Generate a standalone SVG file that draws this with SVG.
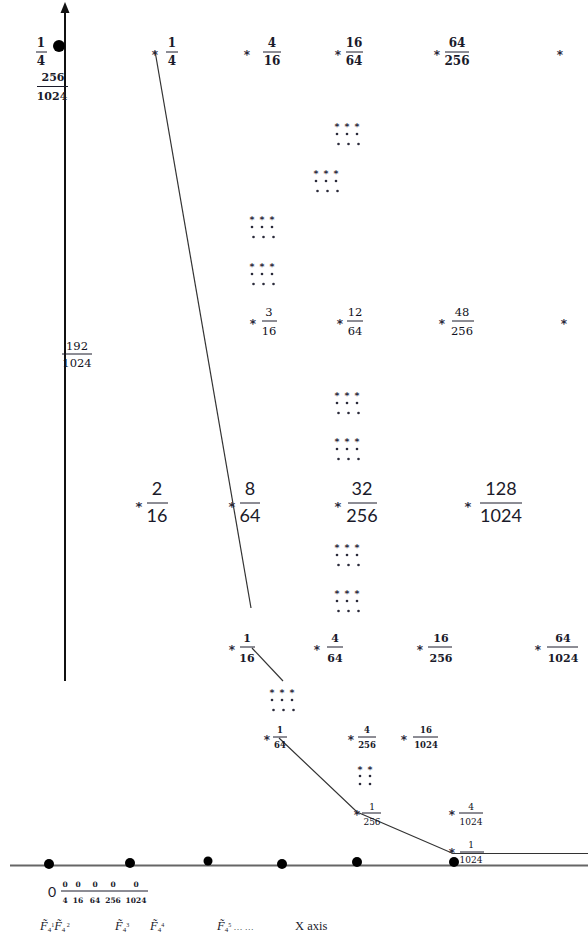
<svg xmlns="http://www.w3.org/2000/svg" xmlns:xlink="http://www.w3.org/1999/xlink" width="588" height="938" viewBox="0 0 588 938">
<style>
.fb{font-family:"DejaVu Serif",serif;font-weight:bold;font-size:12px;fill:#1a1a2a;text-anchor:middle}
.fm{font-family:"DejaVu Serif",serif;font-weight:bold;font-size:11px;fill:#1a1a2a;text-anchor:middle}
.fr{font-family:"DejaVu Serif",serif;font-size:11.5px;fill:#111122;text-anchor:middle}
.fs{font-family:"DejaVu Serif",serif;font-weight:bold;font-size:8.5px;fill:#1a1a2a;text-anchor:middle}
.ft{font-family:"DejaVu Serif",serif;font-size:9px;fill:#111122;text-anchor:middle}
.fz{font-family:"DejaVu Serif",serif;font-weight:bold;font-size:7.5px;fill:#1a1a2a;text-anchor:middle}
.fl{font-family:Lato,"Liberation Sans",sans-serif;font-size:18px;fill:#1a1a2a;text-anchor:middle}
.st{font-family:"DejaVu Sans",sans-serif;font-weight:bold;font-size:12px;fill:#2a2a3a;text-anchor:middle}
.stl{font-family:"DejaVu Sans",sans-serif;font-weight:bold;font-size:13px;fill:#2a2a3a;text-anchor:middle}
.ga{font-family:"DejaVu Sans",sans-serif;font-weight:bold;font-size:9.5px;fill:#2a2a3a;text-anchor:middle}
.lab{font-family:"Liberation Serif",serif;font-size:12.5px;fill:#1a1a2a}
.it{font-style:italic}
.bar{stroke:#1a1a2a;stroke-width:1}
.cn{stroke:#333;stroke-width:1.2;fill:none}
.dt{fill:#000}
.gd{fill:#2a2a3a}
</style>
<defs>
<g id="grid3">
<text class="ga" x="0" y="5.6">*</text><text class="ga" x="10" y="5.6">*</text><text class="ga" x="20" y="5.6">*</text>
<circle class="gd" cx="0" cy="10" r="1.3"/><circle class="gd" cx="10" cy="10" r="1.3"/><circle class="gd" cx="20" cy="10" r="1.3"/>
<circle class="gd" cx="1.5" cy="20" r="1.3"/><circle class="gd" cx="11.5" cy="20" r="1.3"/><circle class="gd" cx="21.5" cy="20" r="1.3"/>
</g>
<g id="grid2">
<text class="ga" x="0" y="5.6">*</text><text class="ga" x="10" y="5.6">*</text>
<circle class="gd" cx="0" cy="9" r="1.3"/><circle class="gd" cx="10" cy="9" r="1.3"/>
<circle class="gd" cx="0" cy="17" r="1.3"/><circle class="gd" cx="10" cy="17" r="1.3"/>
</g>
</defs>
<rect width="588" height="938" fill="#fff"/>

<g id="axes">
<line x1="65" y1="10" x2="65" y2="681" stroke="#111" stroke-width="2"/>
<polygon points="65,2 60.5,13 69.5,13" fill="#111"/>
<line x1="10" y1="865.5" x2="588" y2="865.5" stroke="#666" stroke-width="2"/>
</g>

<g id="connectors">
<line class="cn" x1="155" y1="51" x2="251" y2="608"/>
<line class="cn" x1="252" y1="648" x2="283" y2="681"/>
<polyline class="cn" points="279,738 357,812 453,853.5 588,853.5"/>
</g>

<g id="axis-dots">
<circle class="dt" cx="59" cy="46" r="6"/>
<circle class="dt" cx="49" cy="864" r="5"/>
<circle class="dt" cx="130" cy="863" r="5"/>
<circle class="dt" cx="208" cy="861" r="4.5"/>
<circle class="dt" cx="282" cy="864" r="5"/>
<circle class="dt" cx="357" cy="862" r="5"/>
<circle class="dt" cx="454" cy="862" r="5"/>
</g>

<g id="y-label-1-4"><text class="fb" x="41" y="47">1</text><line class="bar" x1="36" y1="52" x2="47" y2="52"/><text class="fb" x="41" y="65">4</text></g>
<g id="y-label-256-1024"><text class="fm" x="53" y="81">256</text><line class="bar" x1="37" y1="86.5" x2="68" y2="86.5"/><text class="fm" x="52" y="100">1024</text></g>
<g id="y-label-192-1024"><text class="fr" x="77" y="350">192</text><line class="bar" x1="62" y1="354" x2="92" y2="354"/><text class="fr" x="77" y="367">1024</text></g>

<g id="r1-1-4"><text class="st" x="155" y="59">*</text><text class="fb" x="172" y="47">1</text><line class="bar" x1="166" y1="52" x2="178" y2="52"/><text class="fb" x="172" y="65">4</text></g>
<g id="r1-4-16"><text class="st" x="247" y="59">*</text><text class="fb" x="272" y="47">4</text><line class="bar" x1="263" y1="52" x2="281" y2="52"/><text class="fb" x="272" y="65">16</text></g>
<g id="r1-16-64"><text class="st" x="338" y="59">*</text><text class="fb" x="354" y="47">16</text><line class="bar" x1="346" y1="52" x2="363" y2="52"/><text class="fb" x="354" y="65">64</text></g>
<g id="r1-64-256"><text class="st" x="437" y="59">*</text><text class="fb" x="457" y="47">64</text><line class="bar" x1="445" y1="52" x2="469" y2="52"/><text class="fb" x="457" y="65">256</text></g>
<g id="r1-star"><text class="st" x="560" y="59">*</text></g>

<g id="grid-a"><use xlink:href="#grid3" x="337" y="124"/></g>
<g id="grid-b"><use xlink:href="#grid3" x="316" y="171"/></g>
<g id="grid-c"><use xlink:href="#grid3" x="252" y="217"/></g>
<g id="grid-d"><use xlink:href="#grid3" x="252" y="264"/></g>

<g id="r2-3-16"><text class="st" x="253" y="328">*</text><text class="fr" x="269" y="316">3</text><line class="bar" x1="262" y1="321" x2="277" y2="321"/><text class="fr" x="269" y="335">16</text></g>
<g id="r2-12-64"><text class="st" x="340" y="328">*</text><text class="fr" x="355" y="316">12</text><line class="bar" x1="347" y1="321" x2="363" y2="321"/><text class="fr" x="355" y="335">64</text></g>
<g id="r2-48-256"><text class="st" x="442" y="328">*</text><text class="fr" x="462" y="316">48</text><line class="bar" x1="452" y1="321" x2="474" y2="321"/><text class="fr" x="462" y="335">256</text></g>
<g id="r2-star"><text class="st" x="564" y="328">*</text></g>

<g id="grid-e"><use xlink:href="#grid3" x="337" y="393"/></g>
<g id="grid-f"><use xlink:href="#grid3" x="337" y="439"/></g>

<g id="r3-2-16"><text class="stl" x="139" y="511">*</text><text class="fl" x="157" y="495">2</text><line class="bar" x1="147" y1="503" x2="168" y2="503"/><text class="fl" x="157" y="522">16</text></g>
<g id="r3-8-64"><text class="stl" x="232" y="511">*</text><text class="fl" x="250" y="495">8</text><line class="bar" x1="240" y1="503" x2="260" y2="503"/><text class="fl" x="250" y="522">64</text></g>
<g id="r3-32-256"><text class="stl" x="338" y="511">*</text><text class="fl" x="362" y="495">32</text><line class="bar" x1="348" y1="503" x2="377" y2="503"/><text class="fl" x="362" y="522">256</text></g>
<g id="r3-128-1024"><text class="stl" x="468" y="511">*</text><text class="fl" x="501" y="495">128</text><line class="bar" x1="480" y1="503" x2="522" y2="503"/><text class="fl" x="501" y="522">1024</text></g>

<g id="grid-g"><use xlink:href="#grid3" x="337" y="545"/></g>
<g id="grid-h"><use xlink:href="#grid3" x="337" y="591"/></g>

<g id="r4-1-16"><text class="st" x="232" y="654">*</text><text class="fm" x="247" y="642">1</text><line class="bar" x1="240" y1="647" x2="255" y2="647"/><text class="fm" x="247" y="662">16</text></g>
<g id="r4-4-64"><text class="st" x="317" y="654">*</text><text class="fm" x="335" y="642">4</text><line class="bar" x1="327" y1="647" x2="343" y2="647"/><text class="fm" x="335" y="662">64</text></g>
<g id="r4-16-256"><text class="st" x="420" y="654">*</text><text class="fm" x="441" y="642">16</text><line class="bar" x1="428" y1="647" x2="452" y2="647"/><text class="fm" x="441" y="662">256</text></g>
<g id="r4-64-1024"><text class="st" x="538" y="654">*</text><text class="fm" x="563" y="642">64</text><line class="bar" x1="547" y1="647" x2="578" y2="647"/><text class="fm" x="563" y="662">1024</text></g>

<g id="grid-i"><use xlink:href="#grid3" x="272" y="690"/></g>

<g id="r5-1-64"><text class="st" x="267" y="744">*</text><text class="fs" x="280" y="733">1</text><line class="bar" x1="273" y1="737" x2="287" y2="737"/><text class="fs" x="280" y="748">64</text></g>
<g id="r5-4-256"><text class="st" x="351" y="744">*</text><text class="fs" x="367" y="733">4</text><line class="bar" x1="358" y1="737" x2="376" y2="737"/><text class="fs" x="367" y="748">256</text></g>
<g id="r5-16-1024"><text class="st" x="404" y="744">*</text><text class="fs" x="426" y="733">16</text><line class="bar" x1="413" y1="737" x2="438" y2="737"/><text class="fs" x="426" y="748">1024</text></g>

<g id="grid-j"><use xlink:href="#grid2" x="360" y="767"/></g>

<g id="r6-1-256"><text class="st" x="357" y="819">*</text><text class="ft" x="372" y="810">1</text><line class="bar" x1="362" y1="813" x2="381" y2="813"/><text class="ft" x="372" y="825">256</text></g>
<g id="r6-4-1024"><text class="st" x="452" y="819">*</text><text class="ft" x="471" y="810">4</text><line class="bar" x1="459" y1="813" x2="483" y2="813"/><text class="ft" x="471" y="825">1024</text></g>
<g id="r7-1-1024"><text class="st" x="452" y="857">*</text><text class="ft" x="471" y="848">1</text><line class="bar" x1="460" y1="852" x2="484" y2="852"/><text class="ft" x="471" y="863">1024</text></g>

<g id="zeros">
<text x="52" y="897" font-family="Lato, 'Liberation Sans', sans-serif" font-size="14" fill="#1a1a2a" text-anchor="middle">0</text>
<line class="bar" x1="61" y1="891" x2="148" y2="891"/>
<text class="fz" x="65" y="887">0</text><text class="fz" x="65" y="903">4</text>
<text class="fz" x="78" y="887">0</text><text class="fz" x="78" y="903">16</text>
<text class="fz" x="95" y="887">0</text><text class="fz" x="95" y="903">64</text>
<text class="fz" x="113" y="887">0</text><text class="fz" x="113" y="903">256</text>
<text class="fz" x="136" y="887">0</text><text class="fz" x="136" y="903">1024</text>
</g>

<g id="x-labels">
<text class="lab" x="40" y="930"><tspan class="it">F̃</tspan><tspan font-size="7" dy="2">4</tspan><tspan font-size="6" dy="-5">1</tspan><tspan class="it" dy="3">F̃</tspan><tspan font-size="7" dy="2">4</tspan><tspan font-size="6" dy="-5"> 2</tspan></text>
<text class="lab" x="115" y="930"><tspan class="it">F̃</tspan><tspan font-size="7" dy="2">4</tspan><tspan font-size="6" dy="-5">3</tspan></text>
<text class="lab" x="150" y="930"><tspan class="it">F̃</tspan><tspan font-size="7" dy="2">4</tspan><tspan font-size="6" dy="-5">4</tspan></text>
<text class="lab" x="217" y="930"><tspan class="it">F̃</tspan><tspan font-size="7" dy="2">4</tspan><tspan font-size="6" dy="-5">5</tspan><tspan font-size="9" dy="3"> … …</tspan></text>
<text class="lab" x="295" y="930">X axis</text>
</g>
</svg>
